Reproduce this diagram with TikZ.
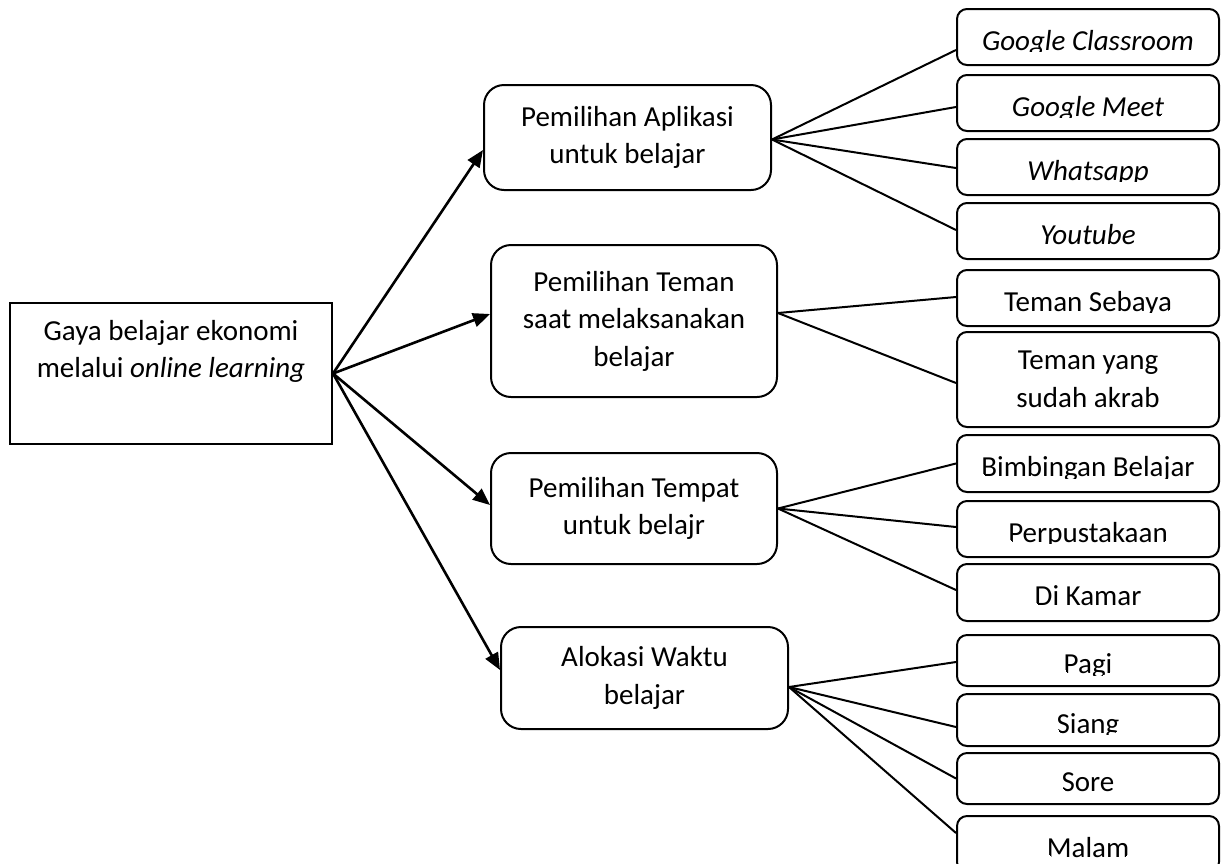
\documentclass[tikz,border=0pt]{standalone}
\usepackage{fontspec}
\setmainfont{Carlito}
\usetikzlibrary{arrows.meta}
\newlength\cutwd
\newcommand\cuttext[1]{\settowidth\cutwd{#1}\tikz[baseline=0pt]{\clip (0pt,-1.5pt) rectangle (\cutwd,30pt); \node[anchor=base west,inner sep=0pt,outer sep=0pt,minimum width=0pt,minimum height=0pt,text height=,text depth=,draw=none] (cuttmp) at (0pt,0pt) {#1};}}
\begin{document}
\begin{tikzpicture}[x=1pt,y=-1pt,
  every node/.style={font=\fontsize{29}{37.5}\selectfont, align=center, inner sep=0pt},
  mainbox/.style={draw, line width=2pt, minimum width=322pt, minimum height=141pt},
  midbox/.style={draw, line width=2pt, rounded corners=20pt, minimum width=287pt},
  leafbox/.style={draw, line width=2pt, rounded corners=10pt, minimum width=262pt, minimum height=56pt, text height=26pt, text depth=0pt},
  leaftwo/.style={draw, line width=2pt, rounded corners=10pt, minimum width=262pt},
  arr/.style={line width=2.6pt, -{Triangle[length=17pt,width=14pt]}},
  ln/.style={line width=2pt}]
\useasboundingbox (0,0) rectangle (1222,863);

% root
\node[mainbox] (root) at (171,373.5) {Gaya belajar ekonomi\\melalui \textit{online learning}\\ \strut};

% level 2
\node[midbox, minimum height=105pt] (a1) at (627.5,137.5) {Pemilihan Aplikasi\\untuk belajar};
\node[midbox, minimum height=152pt, minimum width=286pt] (a2) at (634,321) {Pemilihan Teman\\saat melaksanakan\\belajar};
\node[midbox, minimum height=111pt, minimum width=286pt] (a3) at (634,508.5) {Pemilihan Tempat\\untuk belajr};
\node[midbox, minimum height=102pt] (a4) at (644.5,678) {Alokasi Waktu\\belajar};

% leaves
\node[leafbox] (gc) at (1088,37) {\cuttext{\textit{Google Classroom}}};
\node[leafbox] (gm) at (1088,103) {\cuttext{\textit{Google Meet}}};
\node[leafbox] (wa) at (1088,167) {\cuttext{\textit{Whatsapp}}};
\node[leafbox] (yt) at (1088,231) {\cuttext{\textit{Youtube}}};
\node[leafbox] (ts) at (1088,298) {\cuttext{Teman Sebaya}};
\node[leaftwo, minimum height=95pt] (ty) at (1088,379.5) {Teman yang\\sudah akrab};
\node[leafbox, minimum height=57pt] (bb) at (1088,463.5) {\cuttext{Bimbingan Belajar}};
\node[leafbox] (pp) at (1088,529) {\cuttext{Perpustakaan}};
\node[leafbox, minimum height=57pt] (dk) at (1088,592.5) {\cuttext{Di Kamar}};
\node[leafbox, minimum height=51pt] (pg) at (1088,660.5) {\cuttext{Pagi}};
\node[leafbox, minimum height=52pt] (sg) at (1088,720) {\cuttext{Siang}};
\node[leafbox, minimum height=51pt] (sr) at (1088,778.5) {\cuttext{Sore}};
\node[leafbox] (ml) at (1088,844) {\cuttext{Malam}};

% arrows from root
\draw[arr] (root.east) -- ([yshift=-12.5pt]a1.west);
\draw[arr] (root.east) -- ([yshift=7pt]a2.west);
\draw[arr] (root.east) -- ([yshift=3.5pt]a3.west);
\draw[arr] (root.east) -- ([yshift=8pt]a4.west);

% lines level 2 -> leaves
\coordinate (s1) at ([yshift=-2pt]a1.east);
\draw[ln] (s1) -- ([yshift=-13pt]gc.west);
\draw[ln] (s1) -- ([yshift=-4pt]gm.west);
\draw[ln] (s1) -- ([yshift=-1pt]wa.west);
\draw[ln] (s1) -- ([yshift=1pt]yt.west);

\coordinate (s2) at ([yshift=8pt]a2.east);
\draw[ln] (s2) -- ([yshift=1pt]ts.west);
\draw[ln] (s2) -- ([yshift=-3.5pt]ty.west);

\coordinate (s3) at (a3.east);
\draw[ln] (s3) -- (bb.west);
\draw[ln] (s3) -- ([yshift=2pt]pp.west);
\draw[ln] (s3) -- ([yshift=2.5pt]dk.west);

\coordinate (s4) at ([yshift=-9pt]a4.east);
\draw[ln] (s4) -- ([yshift=-1.5pt]pg.west);
\draw[ln] (s4) -- ([yshift=-7pt]sg.west);
\draw[ln] (s4) -- (sr.west);
\draw[ln] (s4) -- ([yshift=11pt]ml.west);
\end{tikzpicture}
\end{document}
